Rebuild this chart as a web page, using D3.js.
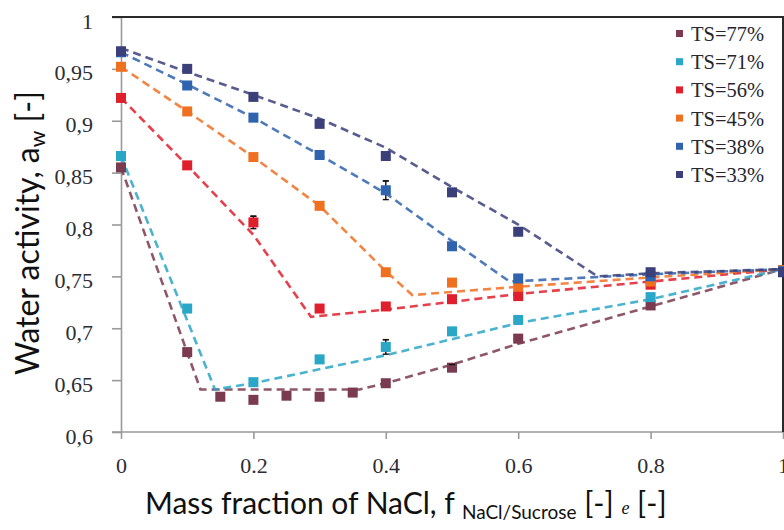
<!DOCTYPE html>
<html>
<head>
<meta charset="utf-8">
<script src="https://cdn.jsdelivr.net/npm/d3@7"></script>
<style>
  body { margin: 0; background: #fff; }
</style>
</head>
<body>
<svg width="784" height="530"></svg>
<script>
const svg = d3.select("svg")
const width = +svg.attr("width")
const height = +svg.attr("height")

// data
const seriesNames = ["TS=77%", "TS=71%", "TS=56%", "TS=45%", "TS=38%", "TS=33%"]
const seriesColors = ["#7a3a4f", "#2aa6c7", "#e01f2d", "#f07022", "#2f63ad", "#3b3f7a"]

const fracTS77 = [0, 0.1, 0.15, 0.2, 0.25, 0.3, 0.35, 0.4, 0.5, 0.6, 0.8, 1]
const fracAll = [0, 0.1, 0.2, 0.3, 0.4, 0.5, 0.6, 0.8, 1]

const awTS77 = [0.855, 0.677, 0.634, 0.631, 0.635, 0.634, 0.638, 0.647, 0.662, 0.690, 0.722, 0.756]
const awTS71 = [0.866, 0.719, 0.648, 0.670, 0.682, 0.697, 0.708, 0.730, 0.756]
const awTS56 = [0.922, 0.857, 0.802, 0.719, 0.721, 0.728, 0.731, 0.742, 0.755]
const awTS45 = [0.952, 0.909, 0.865, 0.818, 0.754, 0.744, 0.740, 0.745, 0.756]
const awTS38 = [0.966, 0.934, 0.903, 0.867, 0.833, 0.779, 0.748, 0.750, 0.755]
const awTS33 = [0.967, 0.950, 0.923, 0.897, 0.866, 0.831, 0.793, 0.754, 0.754]

// model curves (dashed), [fraction, aw]
const modelTS77 = [[0, 0.855], [0.12, 0.641], [0.36, 0.641], [0.4, 0.647], [0.5, 0.665], [0.6, 0.685], [0.8, 0.721], [1, 0.757]]
const modelTS71 = [[0, 0.866], [0.142, 0.641], [0.2, 0.647], [0.4, 0.674], [0.6, 0.705], [0.8, 0.728], [1, 0.757]]
const modelTS56 = [[0, 0.922], [0.1, 0.857], [0.2, 0.79], [0.287, 0.711], [0.4, 0.718], [0.6, 0.733], [0.8, 0.745], [1, 0.757]]
const modelTS45 = [[0, 0.952], [0.1, 0.909], [0.2, 0.865], [0.3, 0.818], [0.4, 0.755], [0.44, 0.732], [0.6, 0.740], [0.8, 0.749], [1, 0.757]]
const modelTS38 = [[0, 0.966], [0.1, 0.935], [0.2, 0.903], [0.3, 0.867], [0.4, 0.830], [0.5, 0.784], [0.587, 0.745], [0.8, 0.752], [1, 0.757]]
const modelTS33 = [[0, 0.970], [0.1, 0.947], [0.2, 0.925], [0.3, 0.902], [0.4, 0.874], [0.5, 0.836], [0.6, 0.800], [0.72, 0.750], [0.8, 0.753], [1, 0.757]]

// error bars: [series index, fraction, aw, half height]
const errorBars = [[2, 0.2, 0.802, 0.006], [4, 0.4, 0.833, 0.009], [1, 0.4, 0.682, 0.007], [0, 0.5, 0.662, 0.003]]

const xTicks = [0, 0.2, 0.4, 0.6, 0.8, 1]
const xTickLabels = ["0", "0.2", "0.4", "0.6", "0.8", "1"]
const yTicks = [0.6, 0.65, 0.7, 0.75, 0.8, 0.85, 0.9, 0.95, 1]
const yTickLabels = ["0,6", "0,65", "0,7", "0,75", "0,8", "0,85", "0,9", "0,95", "1"]

const measured = [
  [fracTS77, awTS77], [fracAll, awTS71], [fracAll, awTS56],
  [fracAll, awTS45], [fracAll, awTS38], [fracAll, awTS33]
]
const models = [modelTS77, modelTS71, modelTS56, modelTS45, modelTS38, modelTS33]

const x = d3.scaleLinear().domain([0, 1]).range([121, 783])
const y = d3.scaleLinear().domain([0.6, 1]).range([432, 17])

const serif = "'Liberation Serif', 'Times New Roman', serif"
const sans = "Lato, 'Open Sans', sans-serif"

// axes
const xAxis = svg.append("g")
  .attr("transform", `translate(0, ${y(0.6)})`)
  .call(d3.axisBottom(x).tickValues(xTicks).tickSize(7).tickSizeOuter(0)
    .tickFormat((d, i) => xTickLabels[i]))

const yAxis = svg.append("g")
  .attr("transform", `translate(${x(0)}, 0)`)
  .call(d3.axisLeft(y).tickValues(yTicks).tickSize(9).tickSizeOuter(0)
    .tickFormat((d, i) => yTickLabels[i]))

xAxis.select(".domain").attr("d", `M${x(0) - 9},0H${x(1)}`)
;[xAxis, yAxis].forEach(a => {
  a.selectAll("line, .domain").attr("stroke", "#9a9a9a").attr("stroke-width", 1.6)
  a.selectAll("text").attr("font-family", serif).attr("font-size", 22).attr("fill", "#2c2c34")
})
xAxis.selectAll("text").attr("dy", "1.4em")
yAxis.selectAll("text").attr("x", -28).attr("dy", "0.5em")

// frame top and right
svg.append("path")
  .attr("d", `M${x(0) - 9},${y(1)}H${x(1)}V${y(0.6)}`)
  .attr("fill", "none")
  .attr("stroke", "#2a2a2a")
  .attr("stroke-width", 2)

// dashed model lines
const line = d3.line().x(d => x(d[0])).y(d => y(d[1]))
svg.append("g").selectAll("path")
  .data(models)
  .join("path")
  .attr("d", line)
  .attr("fill", "none")
  .attr("stroke", (d, i) => seriesColors[i])
  .attr("stroke-opacity", 0.85)
  .attr("stroke-width", 2.6)
  .attr("stroke-dasharray", "8,5")

// error bars
const eb = svg.append("g").attr("stroke", "#111").attr("stroke-width", 1.4)
errorBars.forEach(([s, f, v, e]) => {
  eb.append("line").attr("x1", x(f)).attr("x2", x(f)).attr("y1", y(v - e)).attr("y2", y(v + e))
  eb.append("line").attr("x1", x(f) - 3).attr("x2", x(f) + 3).attr("y1", y(v + e)).attr("y2", y(v + e))
  eb.append("line").attr("x1", x(f) - 3).attr("x2", x(f) + 3).attr("y1", y(v - e)).attr("y2", y(v - e))
})

// measured points
const sq = 10
measured.forEach(([fr, aw], i) => {
  svg.append("g").selectAll("rect")
    .data(fr.map((f, j) => [f, aw[j]]))
    .join("rect")
    .attr("x", d => x(d[0]) - sq / 2)
    .attr("y", d => y(d[1]) - sq / 2)
    .attr("width", sq)
    .attr("height", sq)
    .attr("fill", seriesColors[i])
})

// caps on top of squares
errorBars.forEach(([s, f, v, e]) => {
  svg.append("line").attr("x1", x(f) - 3).attr("x2", x(f) + 3).attr("y1", y(v + e)).attr("y2", y(v + e))
    .attr("stroke", "#111").attr("stroke-width", 1.4)
})

// legend
const legend = svg.append("g").attr("transform", "translate(676, 34)")
const item = legend.selectAll("g")
  .data(seriesNames)
  .join("g")
  .attr("transform", (d, i) => `translate(0, ${i * 28.2})`)
item.append("rect")
  .attr("x", 0).attr("y", -4).attr("width", 7).attr("height", 7)
  .attr("fill", (d, i) => seriesColors[i])
item.append("text")
  .attr("x", 15).attr("y", 7)
  .attr("font-family", serif)
  .attr("font-size", 20.5)
  .attr("fill", "#26262e")
  .text(d => d)

// axis titles
const yTitle = svg.append("text")
  .attr("transform", "translate(39, 233) rotate(-90)")
  .attr("text-anchor", "middle")
  .attr("font-family", sans)
  .attr("font-size", 32)
  .attr("fill", "#111")
yTitle.append("tspan").text("Water activity, a")
yTitle.append("tspan").attr("font-size", 21).attr("dy", 6).text("w")
yTitle.append("tspan").attr("dy", -6).text(" [-]")

const xTitle = svg.append("text")
  .attr("x", 145)
  .attr("y", 514)
  .attr("font-family", sans)
  .attr("font-size", 30)
  .attr("fill", "#111")
xTitle.append("tspan").text("Mass fraction of NaCl, f ")
xTitle.append("tspan").attr("font-size", 19).attr("dy", 5).text("NaCl/Sucrose")
xTitle.append("tspan").attr("dy", -5).text(" [-]  ")
xTitle.append("tspan").attr("font-family", serif).attr("font-style", "italic").attr("font-size", 18).text("e")
xTitle.append("tspan").text(" [-]")
</script>
</body>
</html>
